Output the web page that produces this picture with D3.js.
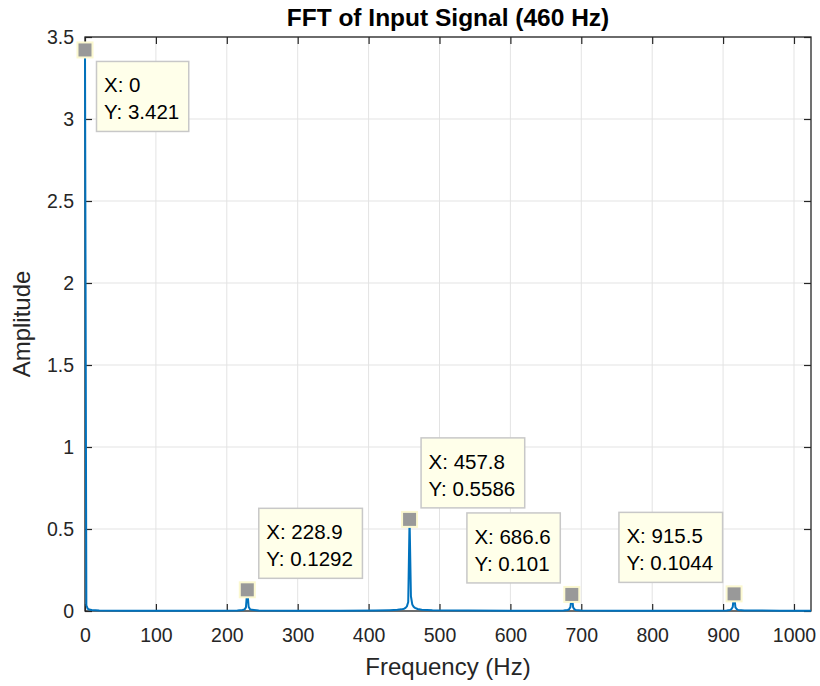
<!DOCTYPE html>
<html>
<head>
<meta charset="utf-8">
<script src="https://cdn.jsdelivr.net/npm/d3@7"></script>
<style>
  body { margin: 0; background: #fff; }
  svg { display: block; font-family: "Liberation Sans", Arial, Helvetica, sans-serif; }
</style>
</head>
<body>
<div id="chart"></div>
<script>
// spectrum samples (Hz, amplitude)
var freq = [0, 1.9, 3.8, 5.7, 9.5, 20, 60, 120, 180, 215, 222.2, 225.1, 227.0, 228.9, 230.8, 232.7, 235.6, 245,
  300, 360, 410, 430, 440.6, 446.4, 450.2, 452.1, 454.0, 455.9, 457.8, 459.7, 461.6, 463.5, 465.4, 469.2, 475, 490,
  540, 600, 650, 675, 680.9, 682.8, 684.7, 686.6, 688.5, 690.4, 692.3, 700, 750, 800, 860, 905,
  909.8, 911.7, 913.6, 915.5, 917.4, 919.3, 921.2, 930, 980, 1024];
var amp = [3.421, 0.035, 0.014, 0.009, 0.006, 0.003, 0.002, 0.002, 0.002, 0.003, 0.006, 0.01, 0.022, 0.1292, 0.026, 0.011, 0.007, 0.003,
  0.002, 0.002, 0.003, 0.005, 0.007, 0.01, 0.014, 0.019, 0.028, 0.055, 0.5586, 0.09, 0.04, 0.026, 0.019, 0.012, 0.008, 0.005,
  0.003, 0.002, 0.002, 0.003, 0.006, 0.01, 0.024, 0.101, 0.022, 0.01, 0.006, 0.003, 0.002, 0.002, 0.002, 0.003,
  0.006, 0.011, 0.024, 0.1044, 0.022, 0.011, 0.006, 0.003, 0.002, 0.002];

// data tips
var tipX = [0, 228.9, 457.8, 686.6, 915.5];
var tipY = [3.421, 0.1292, 0.5586, 0.101, 0.1044];
var tipSide = ["se", "ne", "ne", "nw", "nw"];

var xTicks = [0, 100, 200, 300, 400, 500, 600, 700, 800, 900, 1000];
var yTicks = [0, 0.5, 1, 1.5, 2, 2.5, 3, 3.5];

var width = 820, height = 686;
var margin = {top: 37, right: 9, bottom: 75, left: 85};
var chartWidth = width - margin.left - margin.right;
var chartHeight = height - margin.top - margin.bottom;
var axisColor = "#262626";
var lineColor = "#0072BD";

var svg = d3.select("#chart").append("svg")
    .attr("width", width)
    .attr("height", height);

var xScale = d3.scaleLinear().domain([0, 1024]).range([0, chartWidth]);
var yScale = d3.scaleLinear().domain([0, 3.5]).range([chartHeight, 0]);

var viz = svg.append("g")
    .attr("transform", "translate(" + margin.left + "," + margin.top + ")");

svg.append("defs").append("clipPath").attr("id", "plotclip")
  .append("rect").attr("x", -1).attr("y", -1).attr("width", chartWidth + 2).attr("height", chartHeight + 2);

// grid
viz.append("g").selectAll("line").data(xTicks).enter().append("line")
    .attr("x1", function (d) { return xScale(d); })
    .attr("x2", function (d) { return xScale(d); })
    .attr("y1", 0).attr("y2", chartHeight)
    .attr("stroke", "#e3e3e3").attr("stroke-width", 1);
viz.append("g").selectAll("line").data(yTicks).enter().append("line")
    .attr("y1", function (d) { return yScale(d); })
    .attr("y2", function (d) { return yScale(d); })
    .attr("x1", 0).attr("x2", chartWidth)
    .attr("stroke", "#e3e3e3").attr("stroke-width", 1);

function styleAxis(g) {
  g.select(".domain").remove();
  g.selectAll(".tick line").attr("stroke", axisColor).attr("stroke-width", 1.2);
  g.selectAll(".tick text").attr("fill", axisColor).attr("font-size", "19.5px")
      .attr("font-family", "\"Liberation Sans\", Arial, Helvetica, sans-serif");
}

var plainFormat = function (d) { return String(d); };

viz.append("g")
    .attr("transform", "translate(0," + chartHeight + ")")
    .call(d3.axisBottom(xScale).tickValues(xTicks).tickSize(-7).tickPadding(17).tickFormat(plainFormat))
    .call(styleAxis);
viz.append("g")
    .call(d3.axisTop(xScale).tickValues(xTicks).tickSize(-7).tickFormat(""))
    .call(styleAxis);
viz.append("g")
    .call(d3.axisLeft(yScale).tickValues(yTicks).tickSize(-7).tickPadding(11).tickFormat(plainFormat))
    .call(styleAxis);
viz.append("g")
    .attr("transform", "translate(" + chartWidth + ",0)")
    .call(d3.axisRight(yScale).tickValues(yTicks).tickSize(-7).tickFormat(""))
    .call(styleAxis);

// box
viz.append("rect")
    .attr("width", chartWidth).attr("height", chartHeight)
    .attr("fill", "none").attr("stroke", axisColor).attr("stroke-width", 1.3);

// spectrum line
var line = d3.line()
    .x(function (d, i) { return xScale(freq[i]); })
    .y(function (d) { return yScale(d); });
viz.append("path")
    .datum(amp)
    .attr("clip-path", "url(#plotclip)")
    .attr("d", line)
    .attr("fill", "none")
    .attr("stroke", lineColor)
    .attr("stroke-width", 2)
    .attr("stroke-linejoin", "round");

// data tip markers
viz.append("g").selectAll("rect").data(tipX).enter().append("rect")
    .attr("x", function (d) { return xScale(d) - 7.5; })
    .attr("y", function (d, i) { return yScale(tipY[i]) - 7.5; })
    .attr("width", 15).attr("height", 15)
    .attr("fill", "#999999").attr("stroke", "#fbf8d0").attr("stroke-width", 2);

// data tip boxes
var tips = viz.append("g").selectAll("g").data(tipX).enter().append("g");
tips.each(function (d, i) {
  var g = d3.select(this);
  var px = xScale(d), py = yScale(tipY[i]);
  var box = g.append("rect")
      .attr("fill", "#ffffea").attr("stroke", "#c8c8c8").attr("stroke-width", 1.5);
  var t1 = g.append("text").text("X: " + d);
  var t2 = g.append("text").text("Y: " + tipY[i]);
  g.selectAll("text").attr("font-size", "20.5px").attr("fill", "#000");
  var w = Math.max(t1.node().getComputedTextLength(), t2.node().getComputedTextLength()) + 17;
  var h = 70;
  var off = 11.5;
  var bx = tipSide[i].indexOf("e") >= 0 ? px + off : px - off - w;
  var by = tipSide[i].indexOf("s") >= 0 ? py + off : py - off - h;
  box.attr("x", bx).attr("y", by).attr("width", w).attr("height", h);
  t1.attr("x", bx + 7.5).attr("y", by + 31);
  t2.attr("x", bx + 7.5).attr("y", by + 58);
});

// labels
svg.append("text")
    .attr("x", margin.left + chartWidth / 2).attr("y", 26)
    .attr("text-anchor", "middle")
    .attr("font-size", "24.5px").attr("font-weight", "bold").attr("fill", "#000")
    .text("FFT of Input Signal (460 Hz)");
svg.append("text")
    .attr("x", margin.left + chartWidth / 2).attr("y", 675)
    .attr("text-anchor", "middle")
    .attr("font-size", "24px").attr("fill", axisColor)
    .text("Frequency (Hz)");
svg.append("text")
    .attr("transform", "translate(30," + (margin.top + chartHeight / 2) + ") rotate(-90)")
    .attr("text-anchor", "middle")
    .attr("font-size", "24px").attr("fill", axisColor)
    .text("Amplitude");
</script>
</body>
</html>
